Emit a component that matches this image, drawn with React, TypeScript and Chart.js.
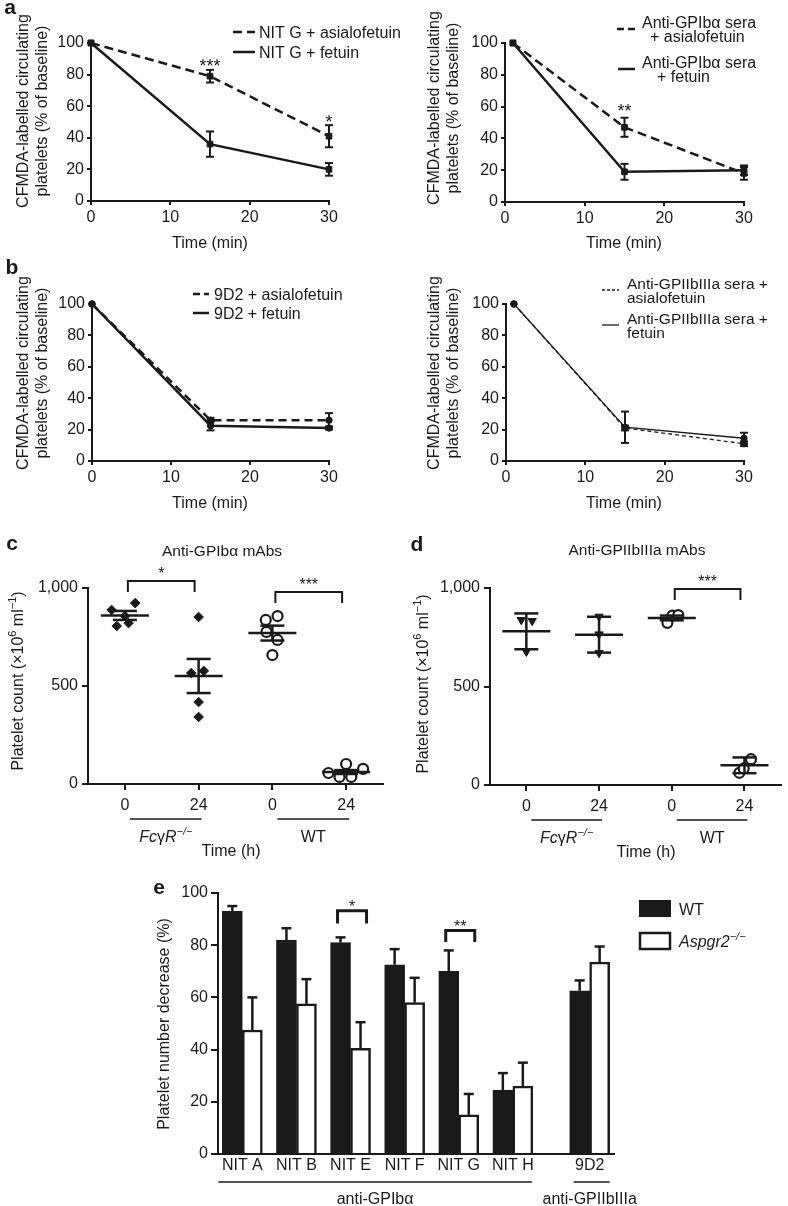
import React, { useEffect, useRef } from 'react';
import { Chart, registerables } from 'chart.js';

Chart.register(...registerables);

const PAGE_W = 788;
const PAGE_H = 1206;
const FONT = '"Liberation Sans", Arial, Helvetica, sans-serif';
const INK = '#1a1a1a';

// ---------------- Panel a ----------------
const timeTicks = [0, 10, 20, 30];
const aLeftTime = [0, 15, 30];
const aLeftAsialo = [100, 79, 41];
const aLeftAsialoErr = [0, 4, 7];
const aLeftFetuin = [100, 36, 20];
const aLeftFetuinErr = [0, 8, 4];
const aLeftStars = [{ x: 15, y: 88, t: '***' }, { x: 30, y: 53, t: '*' }];

const aRightTime = [1, 15, 30];
const aRightAsialo = [100, 47, 18];
const aRightAsialoErr = [0, 6, 4];
const aRightFetuin = [100, 19, 20];
const aRightFetuinErr = [0, 5, 3];
const aRightStars = [{ x: 15, y: 60, t: '**' }];

// ---------------- Panel b ----------------
const bLeftTime = [0, 15, 30];
const bLeftAsialo = [100, 26, 26];
const bLeftAsialoErr = [0, 1.5, 4.5];
const bLeftFetuin = [100, 22.5, 21];
const bLeftFetuinErr = [0, 3, 1];

const bRightTime = [1, 15, 30];
const bRightAsialo = [100, 21, 11];
const bRightAsialoErr = [0, 1.5, 1.5];
const bRightFetuin = [100, 21.5, 14.5];
const bRightFetuinErr = [0, 10, 3.5];

// ---------------- Panels c, d ----------------
const timeLabels = ['0', '24', '0', '24'];
const cValues = [
  [888, 923, 806, 821, 857],
  [852, 566, 577, 418, 342],
  [837, 857, 776, 735, 658],
  [56, 36, 102, 36, 77],
];
const cJitter = [
  [-0.18, 0.14, -0.11, 0.05, 0],
  [0, -0.1, 0.07, 0, 0],
  [-0.09, 0.07, -0.08, 0.07, 0],
  [-0.24, -0.09, 0, 0.07, 0.23],
];
const cMean = [860, 551, 770, 61];
const cSem = [23, 87, 38, 10];
const cBrackets = [
  { a: 0, b: 1, top: 1036, leg: 980, t: '*' },
  { a: 2, b: 3, top: 980, leg: 923, t: '***' },
];

const dValues = [
  [838, 833, 677],
  [855, 765, 670],
  [823, 860, 862],
  [62, 131, 84],
];
const dJitter = [
  [-0.07, 0.08, 0],
  [0, 0, 0],
  [-0.06, 0.01, 0.09],
  [-0.07, 0.09, -0.01],
];
const dMean = [780, 763, 848, 100];
const dErr = [91, 91, 12, 40];
const dBrackets = [{ a: 2, b: 3, top: 995, leg: 939, t: '***' }];

// ---------------- Panel e ----------------
const eGroups = ['NIT A', 'NIT B', 'NIT E', 'NIT F', 'NIT G', 'NIT H', '9D2'];
const eGroupPos = [0, 1, 2, 3, 4, 5, 6.42];
const eWT = [93, 82, 81, 72.5, 70, 24.5, 62.5];
const eWTErr = [2, 4.5, 2, 6, 8, 6.5, 4];
const eAsp = [47.5, 57.5, 40.5, 58, 15, 26, 73.5];
const eAspErr = [12.5, 9.5, 10, 9.5, 8, 9, 6];
const eBrackets = [
  { g: 2, top: 93.2, leg: 88.3, t: '*' },
  { g: 4, top: 85.6, leg: 81.2, t: '**' },
];

// ---------------- drawing helpers ----------------
type Seg = { t: string; it?: boolean; sup?: boolean; bold?: boolean };
type Box = { L: number; R: number; T: number; B: number };

function rich(ctx: CanvasRenderingContext2D, segs: Seg[], x: number, y: number, size = 16,
  align: 'left' | 'center' | 'right' = 'center', rot = 0) {
  ctx.save();
  ctx.translate(x, y);
  if (rot) ctx.rotate(rot);
  const fontOf = (s: Seg) =>
    `${s.it ? 'italic ' : ''}${s.bold ? 'bold ' : ''}${s.sup ? Math.round(size * 0.68) : size}px ${FONT}`;
  const widths = segs.map((s) => { ctx.font = fontOf(s); return ctx.measureText(s.t).width; });
  const total = widths.reduce((p, q) => p + q, 0);
  let cx = align === 'center' ? -total / 2 : align === 'right' ? -total : 0;
  ctx.fillStyle = INK;
  ctx.textAlign = 'left';
  ctx.textBaseline = 'alphabetic';
  segs.forEach((s, i) => {
    ctx.font = fontOf(s);
    ctx.fillText(s.t, cx, size * 0.36 - (s.sup ? size * 0.42 : 0));
    cx += widths[i];
  });
  ctx.restore();
}

function text(ctx: CanvasRenderingContext2D, s: string, x: number, y: number, size = 16,
  align: 'left' | 'center' | 'right' = 'center', rot = 0, it = false, bold = false) {
  rich(ctx, [{ t: s, it, bold }], x, y, size, align, rot);
}

function seg(ctx: CanvasRenderingContext2D, x1: number, y1: number, x2: number, y2: number, w = 2, dash: number[] = []) {
  ctx.save();
  ctx.strokeStyle = INK;
  ctx.lineWidth = w;
  ctx.setLineDash(dash);
  ctx.beginPath();
  ctx.moveTo(x1, y1);
  ctx.lineTo(x2, y2);
  ctx.stroke();
  ctx.restore();
}

function starText(ctx: CanvasRenderingContext2D, t: string, x: number, cy: number, size = 18) {
  text(ctx, t, x, cy + 0.22 * size, size);
}

function cfmdaTitle(ctx: CanvasRenderingContext2D, x1: number, x2: number, cy: number) {
  text(ctx, 'CFMDA-labelled circulating', x1, cy, 16, 'center', -Math.PI / 2);
  text(ctx, 'platelets (% of baseline)', x2, cy, 16, 'center', -Math.PI / 2);
}

function legendItem(ctx: CanvasRenderingContext2D, x1: number, x2: number, y: number, dash: number[], w: number,
  lines: [string, number][], size: number, gap: number) {
  seg(ctx, x1, y, x2, y, w, dash);
  const n = lines.length;
  lines.forEach(([t, tx], k) => text(ctx, t, tx, y + (k - (n - 1) / 2) * gap, size, 'left'));
}

function lineErrorBars(chart: any, cap: number, w: number) {
  const ctx = chart.ctx;
  const ys = chart.scales.y;
  chart.data.datasets.forEach((ds: any, i: number) => {
    const meta = chart.getDatasetMeta(i);
    meta.data.forEach((pt: any, j: number) => {
      const e = ds.errs ? ds.errs[j] : 0;
      if (!e) return;
      const v = ds.data[j].y;
      const y1 = ys.getPixelForValue(v + e);
      const y2 = ys.getPixelForValue(v - e);
      seg(ctx, pt.x, y1, pt.x, y2, w);
      seg(ctx, pt.x - cap, y1, pt.x + cap, y1, w);
      seg(ctx, pt.x - cap, y2, pt.x + cap, y2, w);
    });
  });
}

function drawStars(chart: any, stars: { x: number; y: number; t: string }[]) {
  stars.forEach((s) => {
    starText(chart.ctx, s.t, chart.scales.x.getPixelForValue(s.x), chart.scales.y.getPixelForValue(s.y));
  });
}

function annot(fn: (chart: any) => void) {
  return { id: 'annot', afterDatasetsDraw: (chart: any) => fn(chart) };
}

// ---------------- axes ----------------
function yAxis(L: number, min: number, max: number, step: number, tl: number, pad: number, fmt?: (v: number) => string): any {
  const ticks: any = { stepSize: step, padding: pad, color: INK, font: { family: FONT, size: 16 } };
  if (fmt) ticks.callback = (v: any) => fmt(Number(v));
  return {
    type: 'linear', min, max, ticks,
    afterFit: (s: any) => { s.width = L; },
    grid: { drawOnChartArea: false, drawTicks: true, tickLength: tl, tickWidth: 2, tickColor: INK, lineWidth: 2, color: INK },
    border: { display: true, color: INK, width: 2 },
  };
}

function xAxis(B: number, min: number, max: number, tl: number, pad: number, tickVals: number[], labels?: string[]): any {
  const ticks: any = { padding: pad, color: INK, font: { family: FONT, size: 16 }, autoSkip: false, maxRotation: 0, minRotation: 0 };
  if (labels) ticks.callback = (_v: any, i: number) => labels[i];
  return {
    type: 'linear', min, max, offset: false, ticks,
    afterBuildTicks: (s: any) => { s.ticks = tickVals.map((v) => ({ value: v })); },
    afterFit: (s: any) => { s.height = PAGE_H - B; },
    grid: { offset: false, drawOnChartArea: false, drawTicks: tl > 0, tickLength: tl, tickWidth: 2, tickColor: INK, lineWidth: 2, color: INK },
    border: { display: true, color: INK, width: 2 },
  };
}

function baseOptions(box: Box, scales: any): any {
  return {
    responsive: false, maintainAspectRatio: false, animation: false, devicePixelRatio: 1, events: [],
    layout: { padding: { left: 0, top: box.T, right: PAGE_W - box.R, bottom: 0 } },
    plugins: { legend: { display: false }, tooltip: { enabled: false }, title: { display: false } },
    scales,
  };
}

function lineDataset(label: string, xs: number[], ys: number[], errs: number[], dash: number[], width: number, style: string, radius: number) {
  return {
    label, data: xs.map((x, i) => ({ x, y: ys[i] })), errs,
    borderColor: INK, backgroundColor: INK, borderWidth: width, borderDash: dash,
    pointStyle: style, pointRadius: radius, pointBackgroundColor: INK, pointBorderColor: INK, pointBorderWidth: 1,
    tension: 0, clip: false, fill: false,
  };
}

// ---------------- builders ----------------
function buildAL() {
  const box = { L: 91, R: 329, T: 43, B: 201 };
  return {
    type: 'line',
    data: { datasets: [
      lineDataset('NIT G + asialofetuin', aLeftTime, aLeftAsialo, aLeftAsialoErr, [9, 5], 2.5, 'rect', 4),
      lineDataset('NIT G + fetuin', aLeftTime, aLeftFetuin, aLeftFetuinErr, [], 2.5, 'rect', 4),
    ] },
    options: baseOptions(box, { x: xAxis(box.B, 0, 30, 4, 3, timeTicks), y: yAxis(box.L, 0, 100, 20, 4, 3) }),
    plugins: [annot((c) => {
      const ctx = c.ctx;
      lineErrorBars(c, 4, 2);
      drawStars(c, aLeftStars);
      text(ctx, 'a', 10, 6, 21, 'center', 0, false, true);
      cfmdaTitle(ctx, 22, 41, 111);
      text(ctx, 'Time (min)', 210, 242);
      legendItem(ctx, 233, 255, 32, [9, 5], 2.5, [['NIT G + asialofetuin', 259]], 16, 0);
      legendItem(ctx, 233, 255, 52, [], 2.5, [['NIT G + fetuin', 259]], 16, 0);
    })],
  };
}

function buildAR() {
  const box = { L: 505, R: 744, T: 43, B: 202 };
  return {
    type: 'line',
    data: { datasets: [
      lineDataset('Anti-GPIbα sera + asialofetuin', aRightTime, aRightAsialo, aRightAsialoErr, [9, 5], 2.5, 'rect', 4),
      lineDataset('Anti-GPIbα sera + fetuin', aRightTime, aRightFetuin, aRightFetuinErr, [], 2.5, 'rect', 4),
    ] },
    options: baseOptions(box, { x: xAxis(box.B, 0, 30, 4, 3, timeTicks), y: yAxis(box.L, 0, 100, 20, 4, 3) }),
    plugins: [annot((c) => {
      const ctx = c.ctx;
      lineErrorBars(c, 4, 2);
      drawStars(c, aRightStars);
      cfmdaTitle(ctx, 433, 452, 108);
      text(ctx, 'Time (min)', 624, 242);
      legendItem(ctx, 617, 635, 29, [7, 4], 2.5, [['Anti-GPIbα sera', 642], ['+ asialofetuin', 650]], 16, 14);
      legendItem(ctx, 618, 635, 69, [], 2.5, [['Anti-GPIbα sera', 642], ['+ fetuin', 657]], 16, 14);
    })],
  };
}

function buildBL() {
  const box = { L: 92, R: 329, T: 304, B: 461 };
  return {
    type: 'line',
    data: { datasets: [
      lineDataset('9D2 + asialofetuin', bLeftTime, bLeftAsialo, bLeftAsialoErr, [8, 5], 2.5, 'circle', 3.2),
      lineDataset('9D2 + fetuin', bLeftTime, bLeftFetuin, bLeftFetuinErr, [], 2.5, 'circle', 3.2),
    ] },
    options: baseOptions(box, { x: xAxis(box.B, 0, 30, 4, 3, timeTicks), y: yAxis(box.L, 0, 100, 20, 4, 3) }),
    plugins: [annot((c) => {
      const ctx = c.ctx;
      lineErrorBars(c, 4, 2);
      text(ctx, 'b', 12, 266, 21, 'center', 0, false, true);
      cfmdaTitle(ctx, 22, 41, 373);
      text(ctx, 'Time (min)', 210, 502);
      legendItem(ctx, 193, 209, 294, [7, 4], 2.5, [['9D2 + asialofetuin', 214]], 16, 0);
      legendItem(ctx, 193, 209, 313, [], 2.5, [['9D2 + fetuin', 214]], 16, 0);
    })],
  };
}

function buildBR() {
  const box = { L: 506, R: 744, T: 304, B: 461 };
  return {
    type: 'line',
    data: { datasets: [
      lineDataset('Anti-GPIIbIIIa sera + asialofetuin', bRightTime, bRightAsialo, bRightAsialoErr, [4, 3], 1.3, 'circle', 3.2),
      lineDataset('Anti-GPIIbIIIa sera + fetuin', bRightTime, bRightFetuin, bRightFetuinErr, [], 1.3, 'circle', 3.2),
    ] },
    options: baseOptions(box, { x: xAxis(box.B, 0, 30, 4, 3, timeTicks), y: yAxis(box.L, 0, 100, 20, 4, 3) }),
    plugins: [annot((c) => {
      const ctx = c.ctx;
      lineErrorBars(c, 4, 2);
      cfmdaTitle(ctx, 433, 452, 373);
      text(ctx, 'Time (min)', 624, 502);
      legendItem(ctx, 602, 619, 290, [3, 2], 1.3, [['Anti-GPIIbIIIa sera +', 627], ['asialofetuin', 627]], 15.5, 14);
      legendItem(ctx, 602, 619, 325, [], 1.3, [['Anti-GPIIbIIIa sera +', 627], ['fetuin', 627]], 15.5, 14);
    })],
  };
}

const fcgr: Seg[] = [{ t: 'Fc', it: true }, { t: 'γ' }, { t: 'R', it: true }, { t: '−/−', sup: true, it: true }];
const countTitle: Seg[] = [{ t: 'Platelet count (×10' }, { t: '6', sup: true }, { t: ' ml' }, { t: '−1', sup: true }, { t: ')' }];

function scatterGroups(values: number[][], jitter: number[][], filledStyle: string, filledRot: number) {
  return values.map((vals, g) => ({
    type: 'scatter',
    label: `group ${g}`,
    data: vals.map((v, k) => ({ x: g + jitter[g][k], y: v })),
    pointStyle: g < 2 ? filledStyle : 'circle',
    pointRotation: g < 2 ? filledRot : 0,
    pointRadius: g < 2 ? 4.8 : 5,
    pointBackgroundColor: g < 2 ? INK : '#ffffff',
    pointBorderColor: INK,
    pointBorderWidth: g < 2 ? 1 : 2.2,
    showLine: false,
    clip: false,
  }));
}

function drawMeanErr(chart: any, means: number[], errs: number[]) {
  const ctx = chart.ctx;
  const xs = chart.scales.x, ys = chart.scales.y;
  means.forEach((m, i) => {
    const x = xs.getPixelForValue(i);
    const ym = ys.getPixelForValue(m);
    const y1 = ys.getPixelForValue(m + errs[i]);
    const y2 = ys.getPixelForValue(m - errs[i]);
    seg(ctx, x - 24, ym, x + 24, ym, 2.5);
    seg(ctx, x, y1, x, y2, 2.5);
    seg(ctx, x - 12, y1, x + 12, y1, 2.5);
    seg(ctx, x - 12, y2, x + 12, y2, 2.5);
  });
}

function drawBrackets(chart: any, brackets: { a: number; b: number; top: number; leg: number; t: string }[]) {
  const ctx = chart.ctx;
  const xs = chart.scales.x, ys = chart.scales.y;
  brackets.forEach((br) => {
    const x1 = xs.getPixelForValue(br.a) + 3;
    const x2 = xs.getPixelForValue(br.b) - 4;
    const yt = ys.getPixelForValue(br.top);
    const yl = ys.getPixelForValue(br.leg);
    ctx.save();
    ctx.strokeStyle = INK; ctx.lineWidth = 2;
    ctx.beginPath();
    ctx.moveTo(x1, yl); ctx.lineTo(x1, yt); ctx.lineTo(x2, yt); ctx.lineTo(x2, yl);
    ctx.stroke();
    ctx.restore();
    starText(ctx, br.t, (x1 + x2) / 2, yt - 11, 16);
  });
}

function drawGroupRow(chart: any, B: number, timeX: number) {
  const ctx = chart.ctx;
  const xs = chart.scales.x;
  const labels: Seg[][] = [fcgr, [{ t: 'WT' }]];
  labels.forEach((lab, g) => {
    const xa = xs.getPixelForValue(2 * g) + 5;
    const xb = xs.getPixelForValue(2 * g + 1) + 3;
    seg(ctx, xa, B + 35, xb, B + 35, 1.5);
    rich(ctx, lab, (xa + xb) / 2, B + 52, 16, 'center');
  });
  text(ctx, 'Time (h)', timeX, B + 66);
}

function buildC() {
  const box = { L: 88, R: 383, T: 588, B: 784 };
  return {
    type: 'scatter',
    data: { datasets: scatterGroups(cValues, cJitter, 'rectRot', 0) },
    options: baseOptions(box, {
      x: xAxis(box.B, -0.5, 3.5, 6, 6, [0, 1, 2, 3], timeLabels),
      y: yAxis(box.L, 0, 1000, 500, 6, 4, (v) => v.toLocaleString('en-US')),
    }),
    plugins: [annot((c) => {
      const ctx = c.ctx;
      drawMeanErr(c, cMean, cSem);
      drawBrackets(c, cBrackets);
      drawGroupRow(c, box.B, 231);
      text(ctx, 'c', 12, 542, 21, 'center', 0, false, true);
      text(ctx, 'Anti-GPIbα mAbs', 222, 550, 15.5);
      rich(ctx, countTitle, 17, 681, 16, 'center', -Math.PI / 2);
    })],
  };
}

function buildD() {
  const box = { L: 490, R: 786, T: 588, B: 785 };
  return {
    type: 'scatter',
    data: { datasets: scatterGroups(dValues, dJitter, 'triangle', 180) },
    options: baseOptions(box, {
      x: xAxis(box.B, -0.5, 3.5, 6, 6, [0, 1, 2, 3], timeLabels),
      y: yAxis(box.L, 0, 1000, 500, 6, 4, (v) => v.toLocaleString('en-US')),
    }),
    plugins: [annot((c) => {
      const ctx = c.ctx;
      drawMeanErr(c, dMean, dErr);
      drawBrackets(c, dBrackets);
      drawGroupRow(c, box.B, 646);
      text(ctx, 'd', 417, 543, 21, 'center', 0, false, true);
      text(ctx, 'Anti-GPIIbIIIa mAbs', 637, 549, 15.5);
      rich(ctx, countTitle, 422, 684, 16, 'center', -Math.PI / 2);
    })],
  };
}

function buildE() {
  const box = { L: 218, R: 614, T: 893, B: 1154 };
  const mk = (label: string, vals: number[], errs: number[], fill: string) => ({
    type: 'bar', label, data: vals.map((v, i) => ({ x: eGroupPos[i], y: v })), errs,
    backgroundColor: fill, borderColor: INK, borderWidth: 2.5, borderSkipped: 'bottom', barThickness: 20, clip: false,
  });
  return {
    type: 'bar',
    data: { datasets: [mk('WT', eWT, eWTErr, INK), mk('Aspgr2−/−', eAsp, eAspErr, '#ffffff')] },
    options: baseOptions(box, {
      x: xAxis(box.B, -0.45, 6.87, 0, 2, eGroupPos, eGroups),
      y: yAxis(box.L, 0, 100, 20, 7, 3),
    }),
    plugins: [annot((c) => {
      const ctx = c.ctx;
      const xs = c.scales.x, ys = c.scales.y;
      // one-sided error bars
      c.data.datasets.forEach((ds: any, i: number) => {
        c.getDatasetMeta(i).data.forEach((el: any, j: number) => {
          const yTop = ys.getPixelForValue(ds.data[j].y + ds.errs[j]);
          seg(ctx, el.x, el.y, el.x, yTop, 2.5);
          seg(ctx, el.x - 5, yTop, el.x + 5, yTop, 2.5);
        });
      });
      // significance brackets
      eBrackets.forEach((br) => {
        const cx = xs.getPixelForValue(eGroupPos[br.g]);
        const x1 = cx - 13, x2 = cx + 16;
        const yt = ys.getPixelForValue(br.top), yl = ys.getPixelForValue(br.leg);
        ctx.save();
        ctx.strokeStyle = INK; ctx.lineWidth = 3;
        ctx.beginPath();
        ctx.moveTo(x1, yl); ctx.lineTo(x1, yt); ctx.lineTo(x2, yt); ctx.lineTo(x2, yl);
        ctx.stroke();
        ctx.restore();
        starText(ctx, br.t, (x1 + x2) / 2, yt - 8, 16);
      });
      // legend
      ctx.save();
      ctx.fillStyle = INK;
      ctx.fillRect(639, 900, 32, 17);
      ctx.fillStyle = '#ffffff'; ctx.strokeStyle = INK; ctx.lineWidth = 2.5;
      ctx.fillRect(640, 933, 30, 16);
      ctx.strokeRect(640, 933, 30, 16);
      ctx.restore();
      text(ctx, 'WT', 679, 909, 16, 'left');
      rich(ctx, [{ t: 'Aspgr2', it: true }, { t: '−/−', it: true, sup: true }], 679, 941, 16, 'left');
      // group underlines
      const gA1 = xs.getPixelForValue(eGroupPos[0]) - 24;
      const gA2 = xs.getPixelForValue(eGroupPos[5]) + 19;
      seg(ctx, gA1, box.B + 28, gA2, box.B + 28, 1.5);
      text(ctx, 'anti-GPIbα', (gA1 + gA2) / 2, box.B + 44);
      const g9 = xs.getPixelForValue(eGroupPos[6]);
      seg(ctx, g9 - 16, box.B + 28, g9 + 20, box.B + 28, 1.5);
      text(ctx, 'anti-GPIIbIIIa', g9, box.B + 44);
      // titles
      text(ctx, 'e', 159, 886, 21, 'center', 0, false, true);
      text(ctx, 'Platelet number decrease (%)', 163, 1024, 16, 'center', -Math.PI / 2);
    })],
  };
}

const builders = [buildAL, buildAR, buildBL, buildBR, buildC, buildD, buildE];

function ChartCanvas({ build }: { build: () => any }) {
  const ref = useRef<HTMLCanvasElement | null>(null);
  useEffect(() => {
    if (!ref.current) return;
    const chart = new Chart(ref.current, build());
    return () => chart.destroy();
  }, [build]);
  return (
    <canvas
      ref={ref}
      width={PAGE_W}
      height={PAGE_H}
      style={{ position: 'absolute', left: 0, top: 0, width: PAGE_W, height: PAGE_H }}
    />
  );
}

export default function App() {
  return (
    <div style={{ position: 'absolute', left: 0, top: 0, width: PAGE_W, height: PAGE_H, background: '#ffffff', overflow: 'hidden' }}>
      {builders.map((b, i) => <ChartCanvas key={i} build={b} />)}
    </div>
  );
}
